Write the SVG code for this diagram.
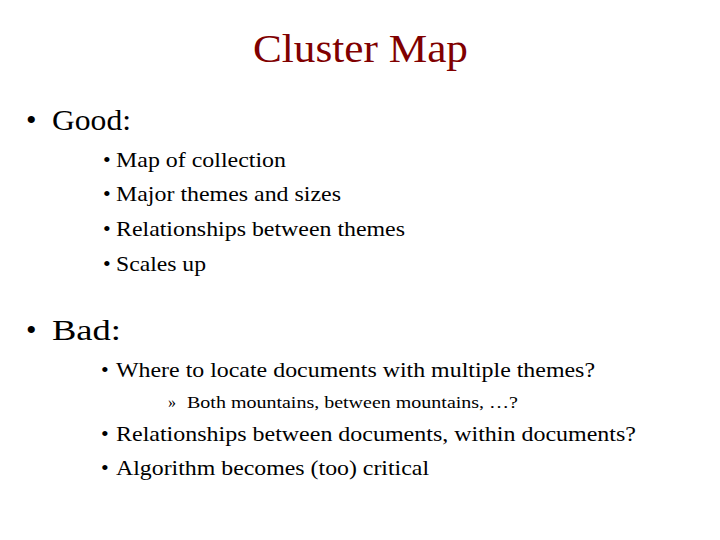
<svg xmlns="http://www.w3.org/2000/svg" width="720" height="540" viewBox="0 0 720 540" font-family="'Liberation Serif','Times New Roman','DejaVu Serif',serif">
<style>
text{font-family:'Liberation Serif','Times New Roman','DejaVu Serif',serif;fill:#000}
.t{fill:#800000;font-size:40px}
.l1{font-size:30px}
.l2{font-size:22px}
.l3{font-size:16px}
</style>
<rect width="720" height="540" fill="#fff"/>
<text class="t" x="253" y="62" textLength="215" lengthAdjust="spacingAndGlyphs">Cluster Map</text>
<text class="l1" x="26" y="130">•</text><text class="l1" x="52" y="130" textLength="79" lengthAdjust="spacingAndGlyphs">Good:</text>
<text class="l2" x="103" y="167">•</text><text class="l2" x="116" y="167" textLength="170" lengthAdjust="spacingAndGlyphs">Map of collection</text>
<text class="l2" x="103" y="201">•</text><text class="l2" x="116" y="201" textLength="225" lengthAdjust="spacingAndGlyphs">Major themes and sizes</text>
<text class="l2" x="103" y="236">•</text><text class="l2" x="116" y="236" textLength="289" lengthAdjust="spacingAndGlyphs">Relationships between themes</text>
<text class="l2" x="103" y="271">•</text><text class="l2" x="116" y="271" textLength="90" lengthAdjust="spacingAndGlyphs">Scales up</text>
<text class="l1" x="26" y="340">•</text><text class="l1" x="52" y="340" textLength="69" lengthAdjust="spacingAndGlyphs">Bad:</text>
<text class="l2" x="101" y="377">•</text><text class="l2" x="116" y="377" textLength="479" lengthAdjust="spacingAndGlyphs">Where to locate documents with multiple themes?</text>
<text class="l3" x="168" y="408">»</text><text class="l3" x="187" y="408" textLength="331" lengthAdjust="spacingAndGlyphs">Both mountains, between mountains, …?</text>
<text class="l2" x="101" y="441">•</text><text class="l2" x="116" y="441" textLength="520" lengthAdjust="spacingAndGlyphs">Relationships between documents, within documents?</text>
<text class="l2" x="101" y="475">•</text><text class="l2" x="116" y="475" textLength="313" lengthAdjust="spacingAndGlyphs">Algorithm becomes (too) critical</text>
</svg>
